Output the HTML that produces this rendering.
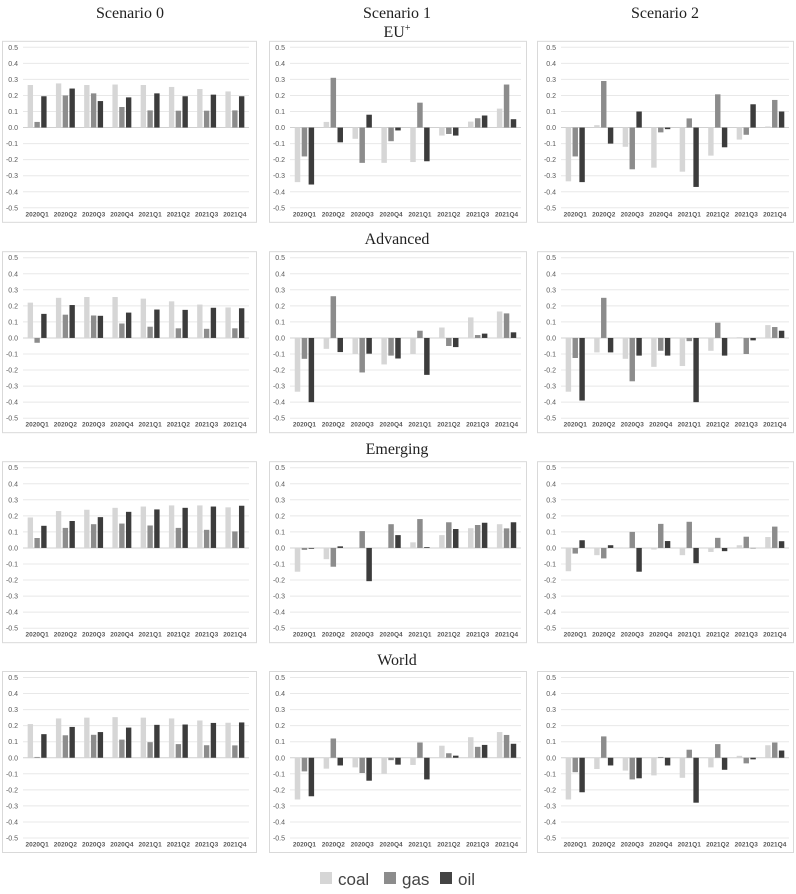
<!DOCTYPE html>
<html><head><meta charset="utf-8">
<style>
html,body{margin:0;padding:0;background:#fff;}
svg{display:block;}
</style></head>
<body>
<svg id="chart" width="796" height="894" viewBox="0 0 796 894" xmlns="http://www.w3.org/2000/svg">
<g id="panels"></g>
<g font-family="Liberation Serif, serif" font-size="16" fill="#222" text-anchor="middle">
<text x="130" y="18">Scenario 0</text>
<text x="397" y="18">Scenario 1</text>
<text x="665" y="18">Scenario 2</text>
<text x="397" y="37">EU<tspan font-size="10" dy="-6">+</tspan></text>
<text x="397" y="244">Advanced</text>
<text x="397" y="454">Emerging</text>
<text x="397" y="665">World</text>
</g>
<g font-family="Liberation Sans, sans-serif" font-size="17" fill="#444">
<rect x="320" y="872" width="12" height="12" fill="#d6d6d6"/>
<text x="338" y="885">coal</text>
<rect x="384" y="872" width="12" height="12" fill="#8c8c8c"/>
<text x="402" y="885">gas</text>
<rect x="440" y="872" width="12" height="12" fill="#444"/>
<text x="458" y="885">oil</text>
</g>
</svg>
<script>
const categories = ["2020Q1","2020Q2","2020Q3","2020Q4","2021Q1","2021Q2","2021Q3","2021Q4"];
const tickValues = [0.5,0.4,0.3,0.2,0.1,0,-0.1,-0.2,-0.3,-0.4,-0.5];
const tickLabels = ["0.5","0.4","0.3","0.2","0.1","0.0","-0.1","-0.2","-0.3","-0.4","-0.5"];

const coal_eu_s0 = [.265,.275,.265,.268,.265,.253,.24,.225];
const gas_eu_s0  = [.035,.2,.213,.128,.107,.105,.105,.107];
const oil_eu_s0  = [.195,.243,.165,.188,.213,.195,.205,.195];
const coal_eu_s1 = [-.34,.035,-.07,-.22,-.215,-.05,.037,.118];
const gas_eu_s1  = [-.18,.31,-.22,-.085,.155,-.04,.058,.268];
const oil_eu_s1  = [-.355,-.092,.08,-.018,-.21,-.05,.075,.052];
const coal_eu_s2 = [-.335,.015,-.12,-.25,-.275,-.175,-.075,.007];
const gas_eu_s2  = [-.18,.29,-.26,-.03,.057,.207,-.045,.172];
const oil_eu_s2  = [-.34,-.1,.1,-.01,-.37,-.123,.145,.1];

const coal_adv_s0 = [.22,.25,.255,.255,.245,.228,.208,.19];
const gas_adv_s0  = [-.03,.145,.14,.09,.07,.06,.057,.06];
const oil_adv_s0  = [.15,.205,.138,.158,.177,.175,.188,.185];
const coal_adv_s1 = [-.335,-.068,-.1,-.165,-.1,.065,.128,.165];
const gas_adv_s1  = [-.13,.26,-.215,-.11,.045,-.05,.018,.153];
const oil_adv_s1  = [-.4,-.088,-.098,-.128,-.23,-.057,.027,.035];
const coal_adv_s2 = [-.335,-.09,-.13,-.18,-.175,-.08,.005,.08];
const gas_adv_s2  = [-.125,.25,-.27,-.08,-.02,.095,-.1,.068];
const oil_adv_s2  = [-.39,-.09,-.11,-.11,-.4,-.11,-.015,.045];

const coal_em_s0 = [.19,.23,.238,.25,.258,.265,.265,.253];
const gas_em_s0  = [.062,.125,.148,.152,.14,.125,.113,.103];
const oil_em_s0  = [.138,.168,.192,.225,.24,.25,.258,.263];
const coal_em_s1 = [-.148,-.07,-.002,.003,.035,.08,.123,.148];
const gas_em_s1  = [-.012,-.117,.105,.148,.18,.16,.143,.122];
const oil_em_s1  = [-.005,.01,-.207,.08,.005,.118,.157,.16];
const coal_em_s2 = [-.145,-.045,.003,-.01,-.045,-.025,.017,.068];
const gas_em_s2  = [-.035,-.065,.1,.15,.163,.063,.07,.133];
const oil_em_s2  = [.048,.017,-.148,.043,-.095,-.02,0,.042];

const coal_w_s0 = [.21,.245,.25,.253,.25,.245,.232,.218];
const gas_w_s0  = [.005,.14,.143,.113,.097,.085,.078,.077];
const oil_w_s0  = [.147,.192,.16,.188,.205,.207,.217,.22];
const coal_w_s1 = [-.26,-.068,-.06,-.1,-.045,.075,.128,.16];
const gas_w_s1  = [-.085,.12,-.095,-.015,.095,.028,.068,.142];
const oil_w_s1  = [-.24,-.048,-.143,-.043,-.135,.013,.08,.087];
const coal_w_s2 = [-.26,-.07,-.08,-.11,-.125,-.06,.012,.078];
const gas_w_s2  = [-.09,.133,-.135,.005,.05,.085,-.035,.095];
const oil_w_s2  = [-.215,-.048,-.128,-.048,-.28,-.075,-.01,.045];

const rowNames = ["eu","advanced","emerging","world"];
const panelSeries = [
  [[coal_eu_s0,gas_eu_s0,oil_eu_s0],[coal_eu_s1,gas_eu_s1,oil_eu_s1],[coal_eu_s2,gas_eu_s2,oil_eu_s2]],
  [[coal_adv_s0,gas_adv_s0,oil_adv_s0],[coal_adv_s1,gas_adv_s1,oil_adv_s1],[coal_adv_s2,gas_adv_s2,oil_adv_s2]],
  [[coal_em_s0,gas_em_s0,oil_em_s0],[coal_em_s1,gas_em_s1,oil_em_s1],[coal_em_s2,gas_em_s2,oil_em_s2]],
  [[coal_w_s0,gas_w_s0,oil_w_s0],[coal_w_s1,gas_w_s1,oil_w_s1],[coal_w_s2,gas_w_s2,oil_w_s2]]
];
const seriesNames = ["coal","gas","oil"];

const NS = "http://www.w3.org/2000/svg";
const colColors = ["#d6d6d6","#8c8c8c","#3c3c3c"];
const cols = [{b0:2,b1:256,p0:23,p1:249},{b0:269,b1:526,p0:290,p1:521},{b0:537,b1:793,p0:561,p1:789}];
const rowTop = [47.3,257.7,467.7,677.5];
const yRange = 160.5;

function mk(tag, attrs, parent){
  const e = document.createElementNS(NS, tag);
  for (const k in attrs) e.setAttribute(k, attrs[k]);
  parent.appendChild(e);
  return e;
}
const root = document.getElementById("panels");
rowTop.forEach((g05, r) => {
  cols.forEach((c, ci) => {
    const yScale = v => g05 + (0.5 - v) / 1.0 * yRange;
    const catW = (c.p1 - c.p0) / categories.length;
    const xBand = i => c.p0 + i * catW;
    const g = mk("g", {}, root);
    
    
    const box = mk("rect", {x:c.b0+0.5, y:g05-6, width:c.b1-c.b0, height:181, fill:"#fff", stroke:"#d9d9d9", "stroke-width":1}, g);
    
    
    tickValues.forEach((tv, ti) => {
      const y = yScale(tv);
      const ln = mk("line", {x1:c.p0, x2:c.p1, y1:y, y2:y, stroke: tv===0 ? "#d0d0d0" : "#e8e8e8", "stroke-width":1}, g);
      
      
      const t = mk("text", {x:c.p0-5, y:y+2.5, "text-anchor":"end", "font-family":"Liberation Sans, sans-serif", "font-size":"7", fill:"#595959"}, g);
      
      
      t.textContent = tickLabels[ti];
    });
    const bw = catW * 0.19, gap = catW * 0.05;
    const groupW = 3 * bw + 2 * gap;
    categories.forEach((cat, i) => {
      const cx = xBand(i) + catW / 2;
      const t = mk("text", {x:cx, y:g05+169, "text-anchor":"middle", "font-family":"Liberation Sans, sans-serif", "font-size":"6.5", "font-weight":"bold", fill:"#595959"}, g);
      
      
      t.textContent = cat;
      panelSeries[r][ci].forEach((arr, si) => {
        const v = arr[i];
        const y0 = yScale(0), y1 = yScale(v);
        const b = mk("rect", {x: cx - groupW/2 + si*(bw+gap), y: Math.min(y0,y1), width: bw, height: Math.max(Math.abs(y1-y0), 0.3), fill: colColors[si]}, g);
        
        
      });
    });
  });
});
</script>
</body></html>
